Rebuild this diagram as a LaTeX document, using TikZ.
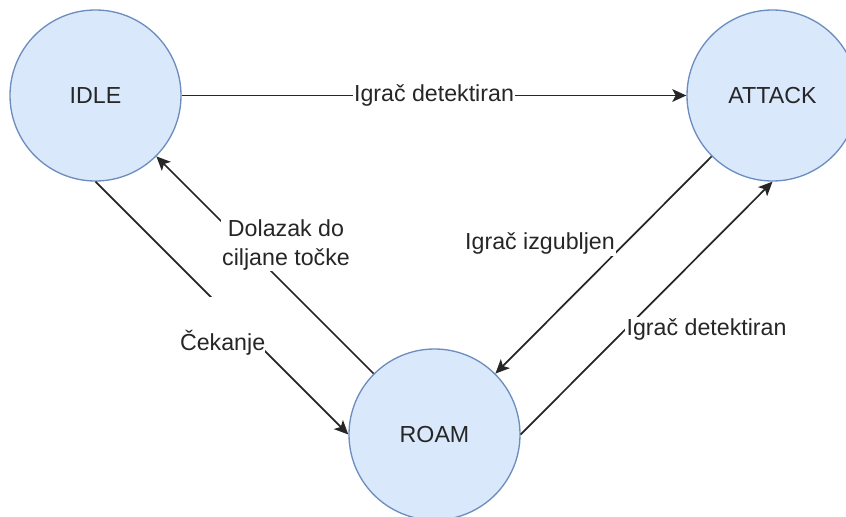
\documentclass[tikz,border=0pt]{standalone}
\usepackage{fontspec}
\setmainfont{Liberation Sans}
\usetikzlibrary{arrows.meta}
\definecolor{statefill}{HTML}{DAE8FC}
\definecolor{stateline}{HTML}{6C8EBF}

\begin{document}
\begin{tikzpicture}[x=0.75pt, y=-0.75pt,
  font=\fontsize{17.4}{21}\selectfont,
  state/.style={circle, draw=stateline, fill=statefill, line width=1pt, minimum size=128.25pt, inner sep=0pt, text=black!85},
  edge/.style={draw=black!85, line width=1.3pt, -{Stealth[length=10.5pt, width=9.5pt, inset=2.5pt]}},
  lbl/.style={fill=white, inner sep=1pt, text=black!85, align=center}]
\def\xleft{95.5};
\def\xmid{434.5};
\def\xright{772.5};

\def\ytop{95.5};
\def\ybot{434.5};

\useasboundingbox (0,0) rectangle (846,517);

\node[state] (idle) at (\xleft, \ytop) {IDLE};
\node[state] (attack) at (\xright, \ytop) {ATTACK};
\node[state] (roam) at (\xmid, \ybot) {ROAM};

\draw[edge] (idle.east) -- node[lbl] {Igrač detektiran} (attack.west);
\draw[edge] (idle.south) -- node[lbl, pos=0.574, shift={(-18,0)}, inner sep=0pt, text height=39.75pt, text depth=4.5pt] {Čekanje} (roam.west);
\draw[edge] (roam.north west) -- node[lbl, shift={(21,-20)}] {Dolazak do\\ciljane točke} (idle.south east);
\draw[edge] (attack.south west) -- node[lbl, shift={(-63.5,-21.5)}] {Igrač izgubljen} (roam.north east);
\draw[edge] (roam.east) -- node[lbl, shift={(60,21)}] {Igrač detektiran} (attack.south);

\end{tikzpicture}
\end{document}
